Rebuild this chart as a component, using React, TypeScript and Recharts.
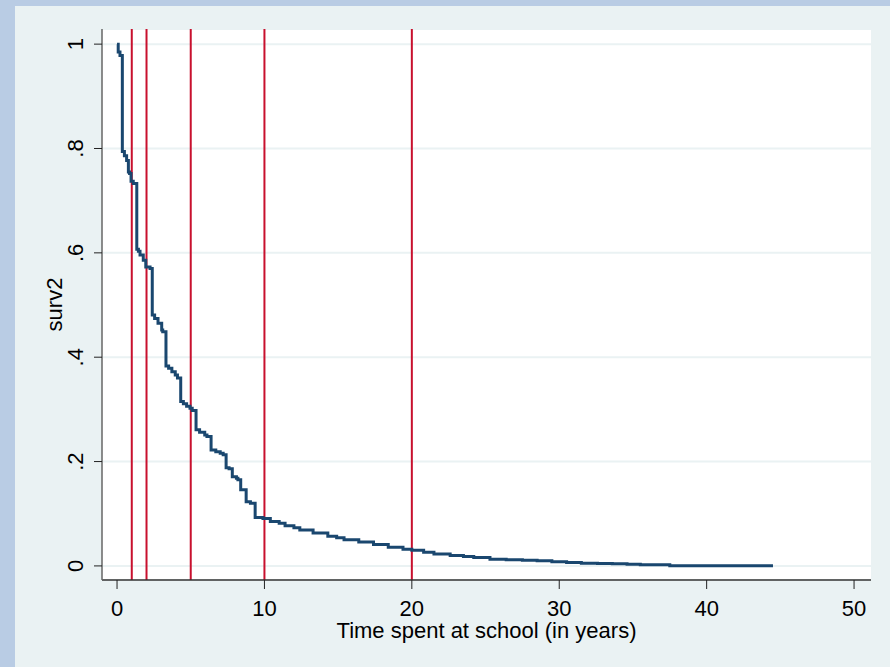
import React from "react";
import {
  LineChart,
  Line,
  XAxis,
  YAxis,
  CartesianGrid,
  ReferenceLine,
  Label,
} from "recharts";

const FONT = "'Liberation Sans', Arial, sans-serif";

// Kaplan-Meier style survival estimate
const TIMES = [
  0, 0.08, 0.2, 0.36, 0.5, 0.65, 0.77, 0.85, 0.95, 1.1, 1.34, 1.45, 1.56, 1.78,
  1.95, 2.24, 2.39, 2.55, 2.78, 3.03, 3.1, 3.32, 3.5, 3.72, 3.95, 4.1, 4.32,
  4.5, 4.72, 4.95, 5.1, 5.36, 5.6, 5.95, 6.1, 6.38, 6.7, 7.0, 7.2, 7.4, 7.6,
  7.82, 8.1, 8.2, 8.39, 8.76, 9.05, 9.37, 9.9, 10.4, 11.0, 11.4, 12.0, 12.4,
  13.3, 14.3, 14.9, 15.4, 16.4, 17.4, 18.4, 19.4, 20.0, 20.8, 21.5, 22.6, 23.5,
  24.2, 25.3, 26.4, 27.5, 28.5, 29.5, 30.5, 31.5, 32.6, 33.6, 34.6, 35.5, 37.5,
  44.5,
];

const SURV2 = [
  1.0, 0.985, 0.978, 0.794, 0.786, 0.777, 0.755, 0.752, 0.737, 0.733, 0.607,
  0.603, 0.596, 0.586, 0.573, 0.57, 0.481, 0.474, 0.465, 0.452, 0.449, 0.383,
  0.379, 0.372, 0.366, 0.36, 0.315, 0.311, 0.306, 0.302, 0.298, 0.261, 0.256,
  0.251, 0.248, 0.222, 0.219, 0.216, 0.213, 0.188, 0.186, 0.171, 0.168, 0.165,
  0.146, 0.123, 0.12, 0.093, 0.091, 0.085, 0.082, 0.077, 0.073, 0.069, 0.063,
  0.057, 0.054, 0.05, 0.046, 0.041, 0.036, 0.032, 0.03, 0.026, 0.023, 0.02,
  0.018, 0.016, 0.013, 0.012, 0.011, 0.01, 0.008, 0.0065, 0.005, 0.0045, 0.004,
  0.003, 0.002, 0.0005, 0.0005,
];

const REF_TIMES = [1, 2, 5, 10, 20];
const X_TICKS = [0, 10, 20, 30, 40, 50];
const Y_TICKS = [0, 0.2, 0.4, 0.6, 0.8, 1];
const Y_LABELS = ["0", ".2", ".4", ".6", ".8", "1"];

const data = TIMES.map((t, i) => ({ t, surv2: SURV2[i] }));

const YTick = (props: any) => {
  const { y, payload } = props;
  const label = Y_LABELS[Y_TICKS.indexOf(payload.value)] ?? String(payload.value);
  const bx = 83;
  return (
    <text
      x={bx}
      y={y}
      transform={`rotate(-90 ${bx} ${y})`}
      textAnchor="middle"
      fontSize={22}
      fontFamily={FONT}
      fill="#000"
    >
      {label}
    </text>
  );
};

const XTick = (props: any) => {
  const { x, y, payload } = props;
  return (
    <text
      x={x}
      y={y + 25}
      textAnchor="middle"
      fontSize={22}
      fontFamily={FONT}
      fill="#000"
    >
      {payload.value}
    </text>
  );
};

export default function App() {
  return (
    <div
      style={{
        position: "absolute",
        left: 0,
        top: 0,
        width: 890,
        height: 667,
        background: "#b9cce4",
        overflow: "hidden",
      }}
    >
      <div
        style={{
          position: "absolute",
          left: 15,
          top: 6,
          width: 875,
          height: 661,
          background: "#eaf2f3",
        }}
      />
      <div style={{ position: "absolute", left: 0, top: 0 }}>
        <LineChart
          width={890}
          height={667}
          data={data}
          margin={{ top: 29, right: 19, bottom: 0, left: 0 }}
        >
          <CartesianGrid
            vertical={false}
            stroke="#eaf2f3"
            strokeWidth={2}
            fill="#ffffff"
            fillOpacity={1}
          />
          <XAxis
            dataKey="t"
            type="number"
            domain={[-1.02, 51.15]}
            ticks={X_TICKS}
            height={87}
            tickSize={9}
            axisLine={{ stroke: "#333", strokeWidth: 1.5 }}
            tickLine={{ stroke: "#222", strokeWidth: 1 }}
            tick={<XTick />}
            interval={0}
          >
            <Label
              content={(p: any) => {
                const vb = p.viewBox;
                return (
                  <text
                    x={vb.x + vb.width / 2}
                    y={vb.y + 58}
                    textAnchor="middle"
                    fontSize={22}
                    fontFamily={FONT}
                    fill="#000"
                  >
                    Time spent at school (in years)
                  </text>
                );
              }}
            />
          </XAxis>
          <YAxis
            type="number"
            domain={[-0.027, 1.029]}
            ticks={Y_TICKS}
            width={102}
            tickSize={8}
            axisLine={{ stroke: "#666", strokeWidth: 1.5 }}
            tickLine={{ stroke: "#222", strokeWidth: 1 }}
            tick={<YTick />}
            interval={0}
          >
            <Label
              content={(p: any) => {
                const vb = p.viewBox;
                const cx = 62;
                const cy = vb.y + vb.height / 2;
                return (
                  <text
                    x={cx}
                    y={cy}
                    transform={`rotate(-90 ${cx} ${cy})`}
                    textAnchor="middle"
                    fontSize={22}
                    fontFamily={FONT}
                    fill="#000"
                  >
                    surv2
                  </text>
                );
              }}
            />
          </YAxis>
          {REF_TIMES.map((rt) => (
            <ReferenceLine key={rt} x={rt} stroke="#c8102e" strokeWidth={2} />
          ))}
          <Line
            type="stepAfter"
            dataKey="surv2"
            stroke="#1a476f"
            strokeWidth={3}
            dot={false}
            activeDot={false}
            isAnimationActive={false}
          />
        </LineChart>
      </div>
    </div>
  );
}
